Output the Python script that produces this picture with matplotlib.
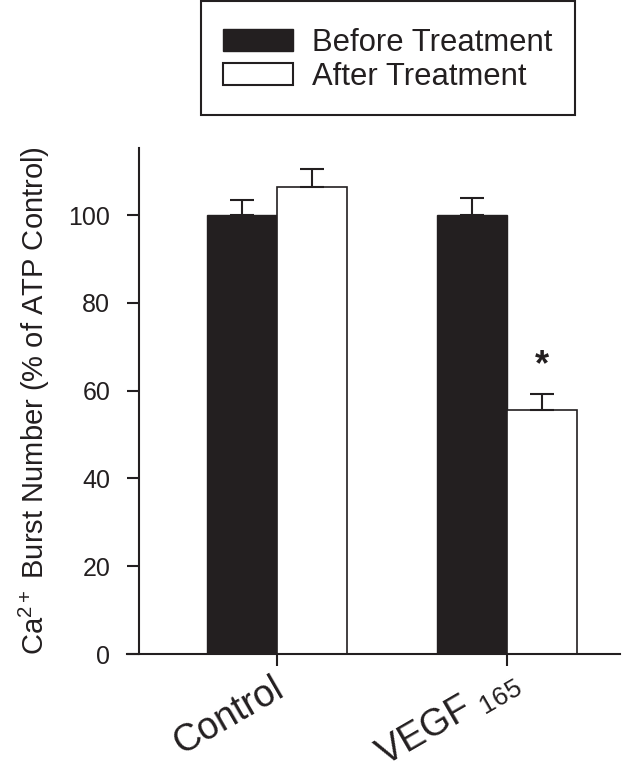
#!/usr/bin/env python3

#Ca2+ burst number before / after treatment, grouped bar chart with SEM error bars

import numpy as np
import matplotlib
matplotlib.use("Agg")
import matplotlib.pyplot as plt
import matplotlib.transforms as mtransforms
from matplotlib.patches import Patch, Rectangle

#Fonts: Arial-like everywhere, mathtext too (for Ca2+ and VEGF165)
plt.rcParams["font.family"] = ["Liberation Sans", "DejaVu Sans"]
plt.rcParams["mathtext.fontset"] = "custom"
plt.rcParams["mathtext.rm"] = "Liberation Sans"
plt.rcParams["mathtext.it"] = "Liberation Sans:italic"
plt.rcParams["mathtext.bf"] = "Liberation Sans:bold"

###########################
########## DATA ###########
###########################

groups = ["Control", r"VEGF $_{165}$"]
series_names = ["Before Treatment", "After Treatment"]
before_values = [100.0, 100.0]
before_errors = [3.4, 3.9]
after_values = [106.4, 55.6]
after_errors = [4.1, 3.6]
significant_after = [False, True]
y_ticks = [0, 20, 40, 60, 80, 100]

###########################
########## PLOT ###########
###########################

dark = "#231f20"
fig = plt.figure(figsize=(6.44, 7.77), dpi=100)
ax = fig.add_axes([0.197, 0.1583, 0.766, 0.6512])

x = np.arange(len(groups))
width = 0.304

ax.bar(x - width / 2, before_values, width, color=dark, edgecolor=dark,
       linewidth=1.0, zorder=2)
ax.bar(x + width / 2, after_values, width, color="white", edgecolor=dark,
       linewidth=1.2, zorder=2)

#Upper error bars only
ax.errorbar(x - width / 2, before_values,
            yerr=[np.zeros(len(groups)), before_errors],
            fmt="none", ecolor=dark, elinewidth=1.5, capsize=8.6,
            capthick=1.5, zorder=3)
ax.errorbar(x + width / 2, after_values,
            yerr=[np.zeros(len(groups)), after_errors],
            fmt="none", ecolor=dark, elinewidth=1.5, capsize=8.6,
            capthick=1.5, zorder=3)

#Significance mark
for i, sig in enumerate(significant_after):
    if sig:
        ax.annotate("*", (x[i] + width / 2, after_values[i] + after_errors[i]),
                    xytext=(0, 8), textcoords="offset points",
                    ha="center", va="bottom", fontsize=26, fontweight="bold",
                    color=dark)

#Axes
ax.set_xlim(-0.652, 1.491)
ax.set_ylim(0, 115.3)
ax.spines["top"].set_visible(False)
ax.spines["right"].set_visible(False)
ax.spines["left"].set_position(("data", -0.6))
ax.spines["left"].set_linewidth(1.5)
ax.spines["bottom"].set_linewidth(1.5)
ax.spines["left"].set_color(dark)
ax.spines["bottom"].set_color(dark)

ax.set_yticks(y_ticks)
ax.set_yticklabels([str(t) for t in y_ticks], fontsize=18, color=dark)
ax.tick_params(axis="y", direction="out", length=8.5, width=1.5, pad=12,
               color=dark)

ax.set_xticks(x)
ax.set_xticklabels(groups, fontsize=27, rotation=30, ha="right",
                   rotation_mode="anchor", color=dark)
ax.tick_params(axis="x", direction="out", length=8.6, width=1.5, pad=3,
               color=dark)

#Small nudges of the rotated group labels (in pixels)
label_nudges = [(-5, 0), (0, 7)]
for lab, (dx, dy) in zip(ax.get_xticklabels(), label_nudges):
    lab.set_transform(lab.get_transform() +
                      mtransforms.ScaledTranslation(dx / 100, dy / 100,
                                                    fig.dpi_scale_trans))

ax.set_ylabel(r"Ca$^{2+}$ Burst Number (% of ATP Control)", fontsize=21,
              color=dark, labelpad=12)

#Legend with a separate frame box
fig.patches.append(Rectangle((0.3121, 0.852), 0.5808, 0.1466,
                             transform=fig.transFigure, fill=False,
                             edgecolor=dark, linewidth=1.5))
handles = [Patch(facecolor=dark, edgecolor=dark, linewidth=1.0),
           Patch(facecolor="white", edgecolor=dark, linewidth=1.5)]
fig.legend(handles, series_names, loc="upper left",
           bbox_to_anchor=(0.3463, 0.964), frameon=False, fontsize=22.3,
           borderpad=0, borderaxespad=0, handlelength=2.26,
           handleheight=0.71, handletextpad=0.61, labelspacing=0.135,
           labelcolor=dark)

plt.savefig("out.png", dpi=100)
plt.close()
